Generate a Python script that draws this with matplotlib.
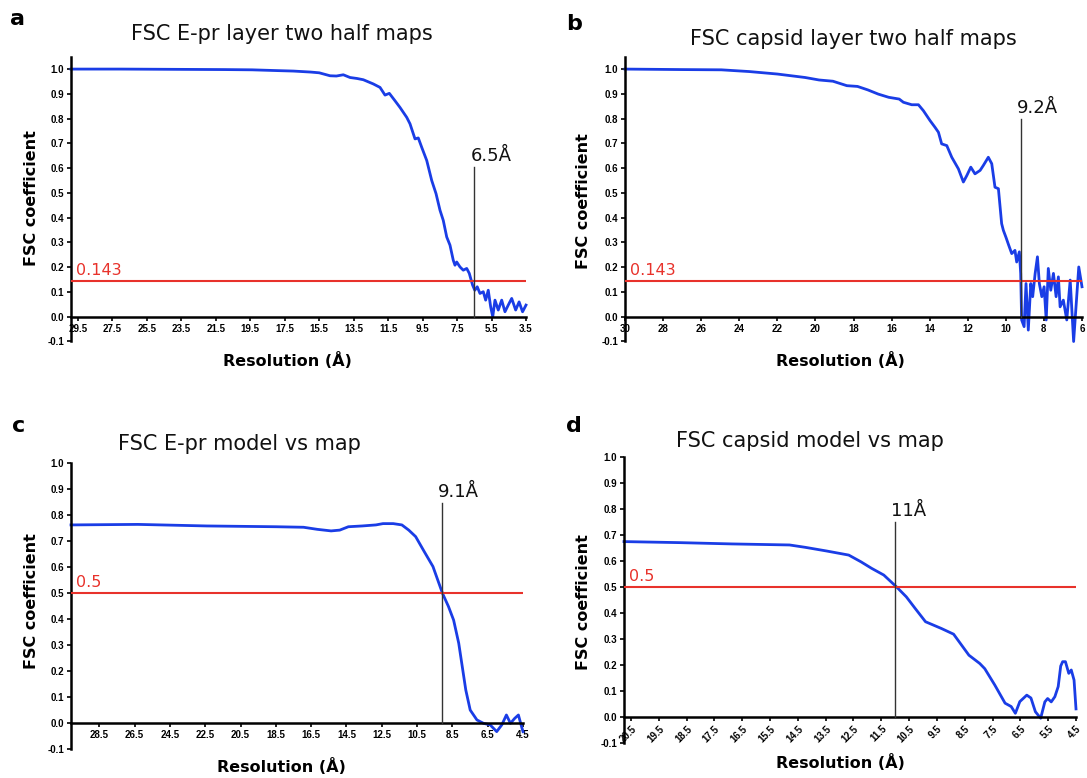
import matplotlib
matplotlib.use("Agg")
import matplotlib.pyplot as plt

# ── Datos (resolucion en A, coeficiente FSC) ─────────────────────────────────
res_a = [29.9, 27.0, 24.0, 21.0, 19.4, 18.0, 17.0, 16.0, 15.5, 14.87,
         14.5, 14.1, 13.71, 13.3, 12.94, 12.36, 11.97, 11.68, 11.43, 11.1,
         10.81, 10.42, 10.23, 9.94, 9.75, 9.55, 9.26, 8.97, 8.72, 8.49,
         8.30, 8.10, 7.91, 7.72, 7.62, 7.52, 7.33, 7.14, 6.94, 6.79,
         6.71, 6.6, 6.47, 6.33, 6.17, 5.98, 5.84, 5.69, 5.55, 5.43,
         5.3, 5.11, 4.91, 4.72, 4.53, 4.33, 4.1, 3.9, 3.7, 3.5]
fsc_a = [1.0, 1.0, 0.999, 0.998, 0.997, 0.994, 0.992, 0.988, 0.985, 0.973,
         0.972, 0.977, 0.966, 0.962, 0.957, 0.940, 0.926, 0.895, 0.902, 0.872,
         0.845, 0.805, 0.779, 0.718, 0.722, 0.684, 0.631, 0.55, 0.497, 0.43,
         0.389, 0.322, 0.289, 0.228, 0.208, 0.221, 0.201, 0.188, 0.195, 0.175,
         0.155, 0.128, 0.107, 0.121, 0.094, 0.101, 0.067, 0.107, 0.04, 0.0,
         0.067, 0.027, 0.067, 0.02, 0.047, 0.074, 0.027, 0.06, 0.02, 0.047]

res_b = [30.0, 27.0, 24.94, 23.47, 22.0, 20.54, 19.81, 19.08, 18.35, 17.79,
         17.25, 16.7, 16.15, 15.6, 15.38, 14.94, 14.59, 14.33, 13.98, 13.72,
         13.54, 13.37, 13.1, 12.84, 12.49, 12.23, 12.05, 11.84, 11.62, 11.35,
         11.18, 10.92, 10.74, 10.57, 10.39, 10.22, 10.13, 9.99, 9.85, 9.69,
         9.52, 9.43, 9.29, 9.22, 9.17, 9.04, 8.94, 8.82, 8.69, 8.59,
         8.46, 8.34, 8.24, 8.11, 7.99, 7.88, 7.77, 7.64, 7.50, 7.36,
         7.24, 7.15, 6.98, 6.8, 6.62, 6.44, 6.17, 6.0]
fsc_b = [1.0, 0.998, 0.997, 0.99, 0.98, 0.966, 0.956, 0.951, 0.933, 0.93,
         0.916, 0.899, 0.886, 0.879, 0.866, 0.856, 0.856, 0.832, 0.792, 0.765,
         0.745, 0.698, 0.691, 0.644, 0.597, 0.544, 0.570, 0.604, 0.577, 0.591,
         0.611, 0.644, 0.618, 0.523, 0.517, 0.376, 0.349, 0.32, 0.289, 0.255,
         0.268, 0.221, 0.262, 0.175, -0.013, -0.04, 0.134, -0.054, 0.134, 0.081,
         0.175, 0.242, 0.134, 0.081, 0.121, -0.013, 0.195, 0.107, 0.175, 0.081,
         0.161, 0.04, 0.067, -0.013, 0.148, -0.1, 0.201, 0.121]

res_c = [30.1, 26.31, 22.4, 18.49, 16.93, 16.15, 15.37, 14.88, 14.39, 13.61,
         12.83, 12.43, 11.85, 11.36, 10.97, 10.58, 10.09, 9.6, 9.06, 8.72,
         8.43, 8.14, 7.94, 7.74, 7.49, 7.11, 6.74, 6.36, 5.99, 5.7,
         5.44, 5.21, 4.97, 4.76, 4.58, 4.5]
fsc_c = [0.763, 0.765, 0.759, 0.756, 0.754, 0.746, 0.74, 0.743, 0.756, 0.759,
         0.763, 0.768, 0.768, 0.763, 0.743, 0.718, 0.66, 0.603, 0.5, 0.449,
         0.397, 0.308, 0.218, 0.128, 0.051, 0.013, 0.0, -0.006, -0.032, -0.006,
         0.032, 0.0, 0.019, 0.032, -0.013, -0.032]

res_d = [20.75, 18.75, 16.87, 14.8, 14.24, 13.48, 12.67, 12.23, 11.85, 11.41,
         10.95, 10.6, 10.28, 9.91, 9.34, 8.9, 8.35, 7.96, 7.78, 7.42,
         7.05, 6.83, 6.68, 6.52, 6.27, 6.12, 5.96, 5.77, 5.62, 5.52,
         5.39, 5.26, 5.14, 5.05, 4.98, 4.88, 4.76, 4.67, 4.57, 4.5]
fsc_d = [0.675, 0.671, 0.666, 0.662, 0.653, 0.639, 0.623, 0.597, 0.572, 0.546,
         0.5, 0.462, 0.417, 0.366, 0.34, 0.318, 0.237, 0.205, 0.185, 0.122,
         0.052, 0.039, 0.013, 0.058, 0.083, 0.072, 0.019, -0.006, 0.057, 0.07,
         0.057, 0.077, 0.116, 0.195, 0.212, 0.212, 0.167, 0.18, 0.141, 0.03]

# ticks
xt_a = [29.5, 27.5, 25.5, 23.5, 21.5, 19.5, 17.5, 15.5, 13.5, 11.5, 9.5, 7.5, 5.5, 3.5]
xt_b = [30, 28, 26, 24, 22, 20, 18, 16, 14, 12, 10, 8, 6]
xt_c = [28.5, 26.5, 24.5, 22.5, 20.5, 18.5, 16.5, 14.5, 12.5, 10.5, 8.5, 6.5, 4.5]
xt_d = [20.5, 19.5, 18.5, 17.5, 16.5, 15.5, 14.5, 13.5, 12.5, 11.5,
        10.5, 9.5, 8.5, 7.5, 6.5, 5.5, 4.5]
yt = [-0.1, 0.0, 0.1, 0.2, 0.3, 0.4, 0.5, 0.6, 0.7, 0.8, 0.9, 1.0]

titulos = ["FSC E-pr layer two half maps", "FSC capsid layer two half maps",
           "FSC E-pr model vs map", "FSC capsid model vs map"]
umbrales = [0.143, 0.143, 0.5, 0.5]
umbral_txt = ["0.143", "0.143", "0.5", "0.5"]
cortes = [6.5, 9.2, 9.1, 11.0]
corte_txt = ["6.5Å", "9.2Å", "9.1Å", "11Å"]

# ─── Estilo ───────────────────────────────────────────────────────────────────
W, H = 1087, 778
AZUL = "#1a3de6"
ROJO = "#e8322b"
TICKFONT = ["Liberation Sans", "DejaVu Sans"]

fig = plt.figure(figsize=(W / 100, H / 100), dpi=100)
fig.patch.set_facecolor("white")


def fx(x):
    return x / W


def fy(y):
    return 1 - y / H


def panel(caja, res, fsc, xlim, ylim, xticks, umbral, u_txt, corte, corte_top, c_txt, rot=0):
    izq, arr, der, aba = caja
    ax = fig.add_axes([fx(izq), fy(aba), (der - izq) / W, (aba - arr) / H])
    ax.plot(res, fsc, color=AZUL, lw=2.0, zorder=2, clip_on=False)
    ax.axhline(umbral, color=ROJO, lw=1.5, zorder=3)
    ax.plot([corte, corte], [0, corte_top], color="#333333", lw=1.0, zorder=3)
    ax.annotate(c_txt, xy=(corte, corte_top), xytext=(-4, 6), textcoords="offset pixels",
                ha="left", va="baseline", fontsize=13, color="#111111")
    ax.annotate(u_txt, xy=(xlim[0], umbral), xytext=(5, 6), textcoords="offset pixels",
                ha="left", va="baseline", fontsize=11.5, color=ROJO)
    ax.set_xlim(xlim)
    ax.set_ylim(ylim)
    ax.spines[["top", "right"]].set_visible(False)
    ax.spines["bottom"].set_position(("data", 0))
    for s in ("left", "bottom"):
        ax.spines[s].set_linewidth(1.8)
    ax.set_xticks(xticks)
    ax.set_xticklabels([f"{v:g}" for v in xticks])
    ax.set_yticks(yt)
    ax.set_yticklabels([f"{v:.1f}" for v in yt])
    ax.tick_params(length=3, width=1.2, pad=2, labelsize=7)
    for lab in ax.get_xticklabels() + ax.get_yticklabels():
        lab.set_fontweight("bold")
        lab.set_family(TICKFONT)
    if rot:
        plt.setp(ax.get_xticklabels(), rotation=rot, ha="right", rotation_mode="anchor")
    return ax


panel((71, 56.7, 526, 341.5), res_a, fsc_a, (29.9, 3.5), (-0.1, 1.05), xt_a,
      umbrales[0], umbral_txt[0], cortes[0], 0.604, corte_txt[0])
panel((625, 56.7, 1082, 341.5), res_b, fsc_b, (30, 6), (-0.1, 1.05), xt_b,
      umbrales[1], umbral_txt[1], cortes[1], 0.80, corte_txt[1])
panel((71, 463.3, 523, 749.3), res_c, fsc_c, (30.1, 4.5), (-0.1, 1.0), xt_c,
      umbrales[2], umbral_txt[2], cortes[2], 0.846, corte_txt[2])
panel((624, 457.3, 1076, 742.6), res_d, fsc_d, (20.75, 4.5), (-0.1, 1.0), xt_d,
      umbrales[3], umbral_txt[3], cortes[3], 0.752, corte_txt[3], rot=45)

# ── Textos de figura: letras, titulos y etiquetas de ejes ─────────────────────
letras = [("a", 10, 25), ("b", 566, 30), ("c", 12, 432), ("d", 566, 432)]
for t, x, y in letras:
    fig.text(fx(x), fy(y), t, fontsize=16, fontweight="bold", ha="left", va="baseline")

pos_tit = [(282, 40), (853, 45), (239, 450), (810, 447)]
for t, (x, y) in zip(titulos, pos_tit):
    fig.text(fx(x), fy(y), t, fontsize=15, ha="center", va="baseline", color="#111111")

pos_ylab = [(31, 198.5), (584, 201), (31, 601), (584, 602)]
for x, y in pos_ylab:
    fig.text(fx(x), fy(y), "FSC coefficient", fontsize=11.5, fontweight="bold",
             rotation=90, ha="center", va="center")

pos_xlab = [(287, 361), (840, 361), (281, 767), (840, 762)]
for x, y in pos_xlab:
    fig.text(fx(x), fy(y), "Resolution (Å)", fontsize=11.5, fontweight="bold",
             ha="center", va="center")

fig.savefig("out.png", dpi=100, facecolor="white")
